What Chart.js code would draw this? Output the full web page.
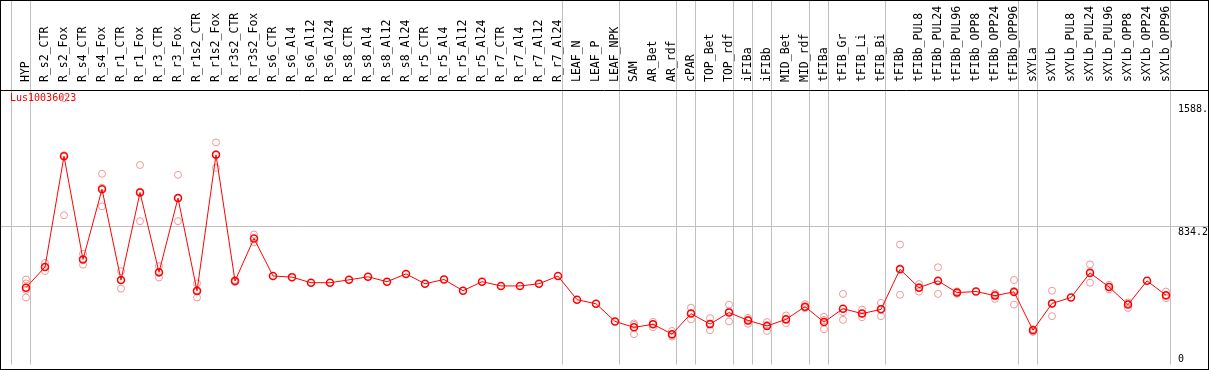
<!DOCTYPE html>
<html>
<head>
<meta charset="utf-8">
<script src="https://cdn.jsdelivr.net/npm/chart.js@4.4.1/dist/chart.umd.min.js"></script>
<style>
	html, body { margin: 0; padding: 0; background: #fff; }
	canvas { display: block; }
</style>
</head>
<body>
<canvas id="chart" width="1209" height="370"></canvas>
<script>
const title = 'Lus10036023';
const categories = [
	'HYP', 'R_s2_CTR', 'R_s2_Fox', 'R_s4_CTR', 'R_s4_Fox', 'R_r1_CTR', 'R_r1_Fox', 'R_r3_CTR', 'R_r3_Fox', 'R_r1s2_CTR',
	'R_r1s2_Fox', 'R_r3s2_CTR', 'R_r3s2_Fox', 'R_s6_CTR', 'R_s6_Al4', 'R_s6_Al12', 'R_s6_Al24', 'R_s8_CTR', 'R_s8_Al4', 'R_s8_Al12',
	'R_s8_Al24', 'R_r5_CTR', 'R_r5_Al4', 'R_r5_Al12', 'R_r5_Al24', 'R_r7_CTR', 'R_r7_Al4', 'R_r7_Al12', 'R_r7_Al24', 'LEAF_N',
	'LEAF_P', 'LEAF_NPK', 'SAM', 'AR_Bet', 'AR_rdf', 'cPAR', 'TOP_Bet', 'TOP_rdf', 'iFIBa', 'iFIBb',
	'MID_Bet', 'MID_rdf', 'tFIBa', 'tFIB_Gr', 'tFIB_Li', 'tFIB_Bi', 'tFIBb', 'tFIBb_PUL8', 'tFIBb_PUL24', 'tFIBb_PUL96',
	'tFIBb_OPP8', 'tFIBb_OPP24', 'tFIBb_OPP96', 'sXYLa', 'sXYLb', 'sXYLb_PUL8', 'sXYLb_PUL24', 'sXYLb_PUL96', 'sXYLb_OPP8', 'sXYLb_OPP24',
	'sXYLb_OPP96'
];
const means = [
	471, 593, 1246, 637, 1051, 516, 1032, 562, 999, 452,
	1254, 510, 761, 540, 533, 500, 500, 517, 535, 506,
	552, 494, 519, 453, 506, 481, 481, 494, 539, 400,
	376, 272, 237, 255, 197, 318, 256, 324, 278, 245,
	284, 359, 268, 347, 318, 343, 579, 471, 511, 442,
	448, 424, 446, 220, 378, 413, 558, 475, 371, 511,
	426
];
// replicate values per category (same order as categories)
const replicates = [
	[519, 496, 458, 413], [616, 593, 569], [1588, 1252, 898], [670, 636, 606], [1142, 1060, 950],
	[568, 514, 465], [1194, 1037, 863], [598, 558, 531], [1136, 996, 863], [496, 448, 413],
	[1327, 1257, 1177], [516, 504], [784, 738], [], [],
	[], [], [], [], [],
	[], [], [], [], [],
	[], [], [], [], [],
	[], [], [260, 252, 197], [270, 256, 237], [216, 191, 183],
	[353, 318, 284], [291, 258, 220], [371, 330, 272], [293, 282, 258], [268, 251, 216],
	[307, 282, 262], [374, 352, 351], [299, 280, 226], [434, 326, 281], [342, 317, 297],
	[381, 346, 303], [725, 585, 429], [492, 473, 448], [591, 509, 434], [449, 442, 434],
	[], [438, 430, 405], [516, 452, 371], [226, 224, 210], [453, 378, 303],
	[], [608, 565, 500], [488, 476, 461], [384, 377, 351], [],
	[448, 422, 409]
];
// index of the last category of each group (-1 = left edge)
const groupEnds = [-1, 0, 28, 31, 34, 35, 37, 38, 39, 41, 42, 45, 52, 53, 60];
const yMin = 18;
const yMax = 1636;
const midValue = 834.2;
const midLabel = '834.2';
const topLabel = '1588.';
const bottomLabel = '0';

const repPoints = [];
replicates.forEach((list, i) => {
	list.forEach(value => {
		repPoints.push({ x: categories[i], y: value });
	});
});

const decor = {
	id: 'decor',
	beforeDatasetsDraw: chart => {
		const ctx = chart.ctx;
		const x = chart.scales.x;
		const y = chart.scales.y;
		const w = chart.width;
		const area = chart.chartArea;
		const step = x.getPixelForValue(1) - x.getPixelForValue(0);
		ctx.save();
		ctx.strokeStyle = '#c0c0c0';
		ctx.lineWidth = 1;
		ctx.beginPath();
		const gy = Math.round(y.getPixelForValue(midValue)) + 0.5;
		ctx.moveTo(1, gy);
		ctx.lineTo(w - 1, gy);
		groupEnds.forEach(index => {
			const gx = Math.round(x.getPixelForValue(0) + step * index + 4) + 0.5;
			ctx.moveTo(gx, 1);
			ctx.lineTo(gx, area.bottom);
		});
		ctx.stroke();
		ctx.fillStyle = '#ff0000';
		ctx.font = '10px "DejaVu Sans Mono"';
		ctx.textAlign = 'left';
		ctx.textBaseline = 'alphabetic';
		ctx.fillText(title, 10, area.top + 10.5);
		ctx.restore();
	},
	afterDraw: chart => {
		const ctx = chart.ctx;
		const x = chart.scales.x;
		const y = chart.scales.y;
		const w = chart.width;
		const h = chart.height;
		const area = chart.chartArea;
		ctx.save();
		ctx.strokeStyle = '#000';
		ctx.lineWidth = 1;
		ctx.strokeRect(0.5, 0.5, w - 1, h - 1);
		ctx.beginPath();
		ctx.moveTo(0, area.top + 0.5);
		ctx.lineTo(w, area.top + 0.5);
		ctx.stroke();
		ctx.fillStyle = '#000';
		ctx.font = '11.5px "DejaVu Sans Mono"';
		ctx.textAlign = 'left';
		ctx.textBaseline = 'alphabetic';
		categories.forEach((label, i) => {
			ctx.save();
			ctx.translate(x.getPixelForValue(i) + 2.5, area.top - 8);
			ctx.rotate(-Math.PI / 2);
			ctx.fillText(label, 0, 0);
			ctx.restore();
		});
		ctx.font = '10px "DejaVu Sans Mono"';
		const lx = area.right + 12;
		ctx.fillText(topLabel, lx, area.top + 21.5);
		ctx.fillText(midLabel, lx, y.getPixelForValue(midValue) + 8.5);
		ctx.fillText(bottomLabel, lx, area.bottom - 3);
		ctx.restore();
	}
};

new Chart(document.getElementById('chart'), {
	type: 'line',
	data: {
		labels: categories,
		datasets: [{
			label: 'mean',
			data: means,
			borderColor: '#ff0000',
			borderWidth: 1,
			tension: 0,
			pointRadius: 3.5,
			pointBorderWidth: 1.5,
			pointBorderColor: '#ff0000',
			pointBackgroundColor: 'rgba(0,0,0,0)'
		}, {
			label: 'replicates',
			data: repPoints,
			showLine: false,
			pointRadius: 3.5,
			pointBorderWidth: 1,
			pointBorderColor: '#f09898',
			pointBackgroundColor: 'rgba(0,0,0,0)'
		}]
	},
	options: {
		responsive: false,
		animation: false,
		events: [],
		layout: {
			padding: { left: 26, right: 43, top: 90, bottom: 1 }
		},
		scales: {
			x: { type: 'category', offset: false, display: false },
			y: { min: yMin, max: yMax, display: false }
		},
		plugins: {
			legend: { display: false },
			tooltip: { enabled: false }
		}
	},
	plugins: [decor]
});
</script>
</body>
</html>
